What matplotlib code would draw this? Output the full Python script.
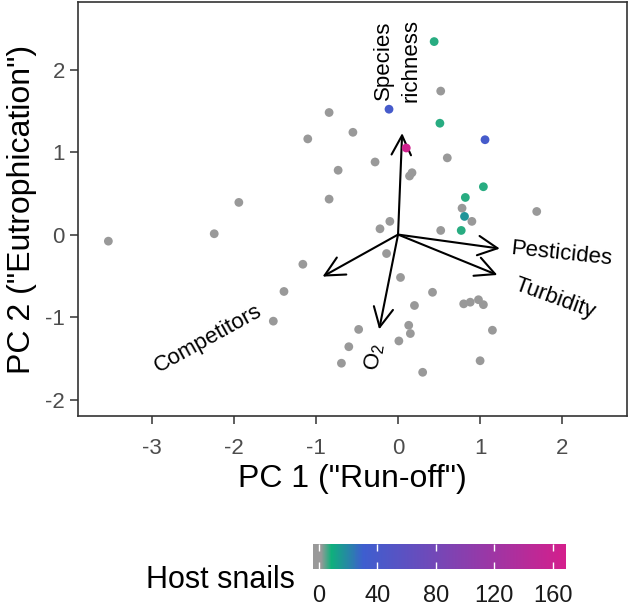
import numpy as np
import matplotlib
matplotlib.use("Agg")
import matplotlib.pyplot as plt
from matplotlib.colors import LinearSegmentedColormap

plt.rcParams['font.family'] = ['Liberation Sans', 'DejaVu Sans']
plt.rcParams['mathtext.fontset'] = 'custom'
plt.rcParams['mathtext.rm'] = 'Liberation Sans'
plt.rcParams['mathtext.it'] = 'Liberation Sans:italic'
plt.rcParams['axes.unicode_minus'] = False

# site scores on the first two principal components
pc1 = [-3.53, -2.24, -1.94, -0.84, -1.10, -0.55, -0.11, 0.44, 0.52, 0.51,
       1.06, 0.10, 0.60, -0.28, -0.73, 0.17, 0.14, 1.04, 0.82, -0.84,
       0.78, 0.81, 0.90, 0.77, 0.52, 1.69, -0.10, -0.22, -0.14, -1.16,
       0.03, -1.39, 0.42, 0.20, 0.80, 0.88, 0.98, 1.04, -1.52, -0.48,
       0.13, 0.15, 1.15, -0.60, 0.01, -0.69, 1.00, 0.30]
pc2 = [-0.08, 0.01, 0.39, 1.48, 1.16, 1.24, 1.52, 2.34, 1.74, 1.35,
       1.15, 1.05, 0.93, 0.88, 0.78, 0.75, 0.71, 0.58, 0.45, 0.43,
       0.32, 0.22, 0.16, 0.05, 0.05, 0.28, 0.16, 0.07, -0.23, -0.36,
       -0.52, -0.69, -0.70, -0.86, -0.84, -0.82, -0.79, -0.85, -1.05, -1.15,
       -1.10, -1.20, -1.16, -1.36, -1.29, -1.56, -1.53, -1.67]
snails = [0, 0, 0, 0, 0, 0, 38, 7, 0, 7,
          38, 165, 0, 0, 0, 0, 0, 7, 7, 0,
          0, 16, 0, 7, 0, 0, 0, 0, 0, 0,
          0, 0, 0, 0, 0, 0, 0, 0, 0, 0,
          0, 0, 0, 0, 0, 0, 0, 0]

# loadings of the environmental variables
var_names = ["Species\nrichness", "Pesticides", "Turbidity", "Competitors", "O$_2$"]
load_x = [0.05, 1.24, 1.21, -0.92, -0.23]
load_y = [1.23, -0.17, -0.49, -0.51, -1.15]
lab_x = [-0.01, 1.99, 1.91, -2.31, -0.28]
lab_y = [2.11, -0.23, -0.78, -1.26, -1.48]
lab_rot = [90, -6, -20, 29, 82]

cmap = LinearSegmentedColormap.from_list(
    "snails",
    [(0.0, "#999999"), (0.03, "#999999"), (0.07, "#0fb07c"),
     (0.20, "#3e5ecf"), (1.0, "#d41f8c")])
vmin, vmax = -4, 169

fig = plt.figure(figsize=(6.30, 6.06), dpi=100)
ax = fig.add_axes([78 / 630, 1 - 416 / 606, 549 / 630, 414 / 606])

for name, x, y, tx, ty, r in zip(var_names, load_x, load_y, lab_x, lab_y, lab_rot):
    ax.annotate("", xy=(x, y), xytext=(0, 0),
                arrowprops=dict(arrowstyle="->,head_length=0.7,head_width=0.35",
                                lw=1.5, color="black", shrinkA=0, shrinkB=0,
                                mutation_scale=20),
                zorder=2)
    ax.text(tx, ty, name, rotation=r, ha="center", va="center", fontsize=16,
            linespacing=1.35, rotation_mode="anchor", zorder=4)

order = np.argsort(snails, kind="stable")
sc = ax.scatter(np.array(pc1)[order], np.array(pc2)[order], c=np.array(snails)[order],
                cmap=cmap, vmin=vmin, vmax=vmax, s=40, linewidths=0, zorder=3)

ax.set_xlim(-3.90, 2.79)
ax.set_ylim(-2.20, 2.82)
ax.set_xticks([-3, -2, -1, 0, 1, 2])
ax.set_yticks([-2, -1, 0, 1, 2])
ax.tick_params(length=5.5, width=1.1, color="#333333", labelsize=16,
               labelcolor="#4d4d4d")
ax.tick_params(axis="x", pad=10)
ax.tick_params(axis="y", pad=4)
for sp in ax.spines.values():
    sp.set_color("#333333")
    sp.set_linewidth(1.2)
ax.set_xlabel('PC 1 ("Run-off")', fontsize=23, labelpad=4)
ax.set_ylabel('PC 2 ("Eutrophication")', fontsize=23, labelpad=6)

cax = fig.add_axes([313 / 630, 1 - 569 / 606, 253 / 630, 25 / 606])
cb = fig.colorbar(sc, cax=cax, orientation="horizontal")
cb.outline.set_visible(False)
cb.set_ticks([0, 40, 80, 120, 160])
cax.xaxis.set_ticks_position("both")
cax.tick_params(direction="in", color="white", length=5, width=1,
                labelsize=17, labelcolor="#1a1a1a", pad=11.5)
fig.text(295 / 630, 1 - 580 / 606, "Host snails", fontsize=22, ha="right", va="center")

fig.savefig("out.png", dpi=100)
